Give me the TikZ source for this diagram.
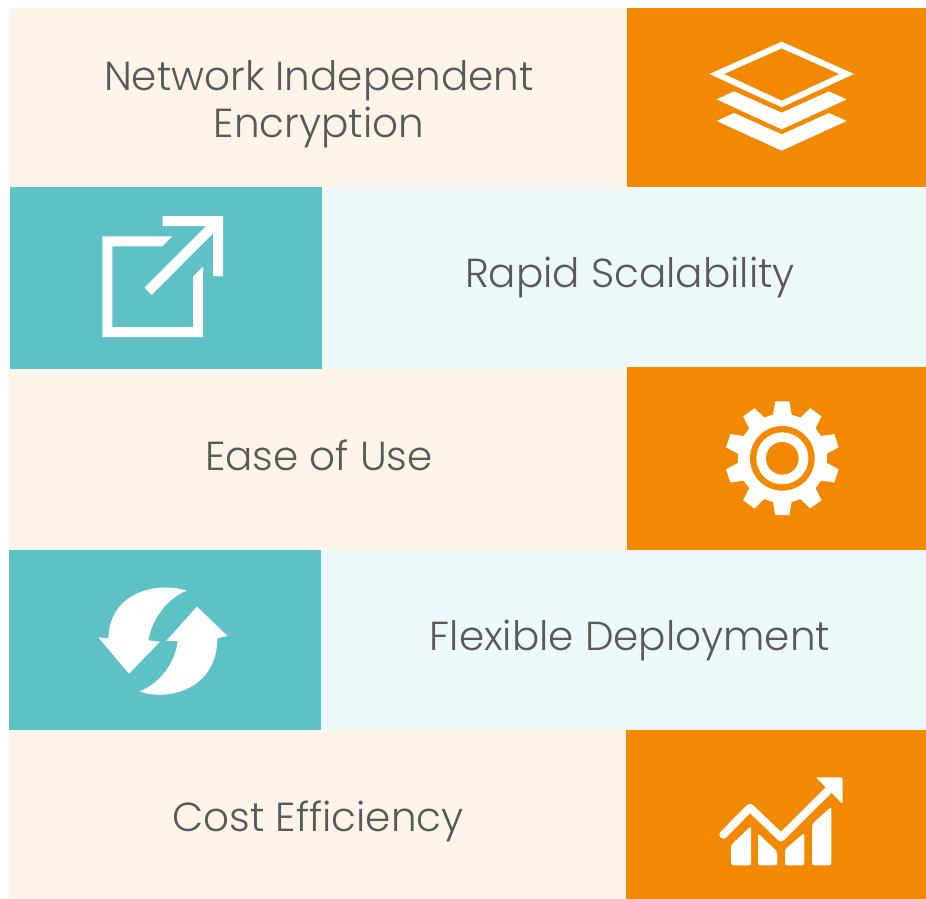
\documentclass[tikz,border=0pt]{standalone}
\usepackage{fontspec}
\setmainfont{Poppins Light}
\definecolor{orangeC}{HTML}{F28900}
\definecolor{tealC}{HTML}{5EC1C6}
\definecolor{creamC}{HTML}{FCF3E9}
\definecolor{lightC}{HTML}{EEF8FA}
\definecolor{textC}{HTML}{595959}
\tikzset{
  band/.style={fill=#1,draw=none},
  label/.style={text=textC,font=\fontsize{40.5}{47}\selectfont,align=center,inner sep=0pt},
  zoomed/.style={x=0.33333pt,y=-0.33333pt},
}
\begin{document}
\begin{tikzpicture}[x=1pt,y=-1pt]
\useasboundingbox (0,0) rectangle (926,899);
\fill[white] (0,0) rectangle (926,899);
\fill[band=creamC] (9,8) rectangle (627,187);
\fill[band=orangeC] (627,8) rectangle (926,187);
\fill[band=creamC] (9,367) rectangle (627,550);
\fill[band=lightC] (322,187) rectangle (926,369);
\fill[band=tealC] (10,187) rectangle (322,369);
\fill[band=orangeC] (627,367) rectangle (926,550);
\fill[band=lightC] (321,550) rectangle (926,730);
\fill[band=tealC] (9,550) rectangle (321,730);
\fill[band=creamC] (9,730) rectangle (626,899);
\fill[band=orangeC] (626,730) rectangle (926,899);
\node[label] (t1) at (319,104) {Network Independent\\Encryption};
\node[label] (t2) at (630,277) {Rapid Scalability};
\node[label] (t3) at (319,455) {Ease of Use};
\node[label] (t4) at (630,640) {Flexible Deployment};
\node[label] (t5) at (318,821) {Cost Efficiency};
% layers
\begin{scope}[xshift=680pt,yshift=-20pt,zoomed]
\fill[white,even odd rule] (305,65)--(522,162)--(305,262)--(88,162)--cycle (305,85)--(478,162)--(305,242)--(132,162)--cycle;
\fill[white] (110,238)--(162,214)--(305,278)--(447,214)--(500,238)--(305,328)--cycle;
\fill[white] (110,303)--(162,279)--(305,343)--(447,279)--(500,303)--(305,392)--cycle;
\end{scope}
% external link
\begin{scope}[xshift=80pt,yshift=-200pt,zoomed]
\fill[white] (248,48)--(429,48)--(429,228)--(399,228)--(399,100)--(215,285)--(193,263)--(378,78)--(248,78)--cycle;
\fill[white] (67,109)--(277,109)--(247,139)--(97,139)--(97,381)--(339,381)--(339,230)--(369,200)--(369,411)--(67,411)--cycle;
\end{scope}
% gear
\begin{scope}[xshift=700pt,yshift=-390pt,zoomed]
\begin{scope}[shift={(247,205)}]
\fill[white] (97:172)
 \foreach \a in {90,54,18,-18,-54,-90,-126,-162,-198,-234}{
   -- ({\a+7}:172) -- ({\a-7}:172) -- ({\a-12}:134) -- ({\a-24}:134)
 } -- cycle;
\fill[orangeC] (0,0) circle[radius=97];
\fill[white] (0,0) circle[radius=78];
\fill[orangeC] (0,0) circle[radius=49];
\end{scope}
\end{scope}
% refresh
\begin{scope}[xshift=80pt,yshift=-570pt,zoomed]
\fill[white] (320,62) .. controls (240,35) and (90,60) .. (85,205) -- (55,202) -- (147,311) -- (240,215) -- (205,211) .. controls (215,150) and (260,85) .. (320,62) -- cycle;
\fill[white] (178,364) .. controls (260,395) and (412,360) .. (412,205) -- (443,198) -- (351,110) -- (259,212) -- (293,214) .. controls (285,280) and (240,340) .. (178,364) -- cycle;
\end{scope}
% chart
\begin{scope}[xshift=700pt,yshift=-760pt,zoomed]
\draw[white,line width=8pt,line cap=round,line join=round] (70,224) -- (150,143) -- (243,232) -- (392,84);
\fill[white,rounded corners=1.5pt] (347,52) -- (428,52) -- (428,132) -- cycle;
\fill[white,rounded corners=2.5pt] (93,316) -- (93,255) -- (153,198) -- (153,316) -- cycle;
\fill[white,rounded corners=2.5pt] (174,316) -- (174,220) -- (232,275) -- (232,316) -- cycle;
\fill[white,rounded corners=2.5pt] (255,316) -- (255,268) -- (313,218) -- (313,316) -- cycle;
\fill[white,rounded corners=2.5pt] (336,316) -- (336,192) -- (394,140) -- (394,316) -- cycle;
\end{scope}
\end{tikzpicture}
\end{document}
